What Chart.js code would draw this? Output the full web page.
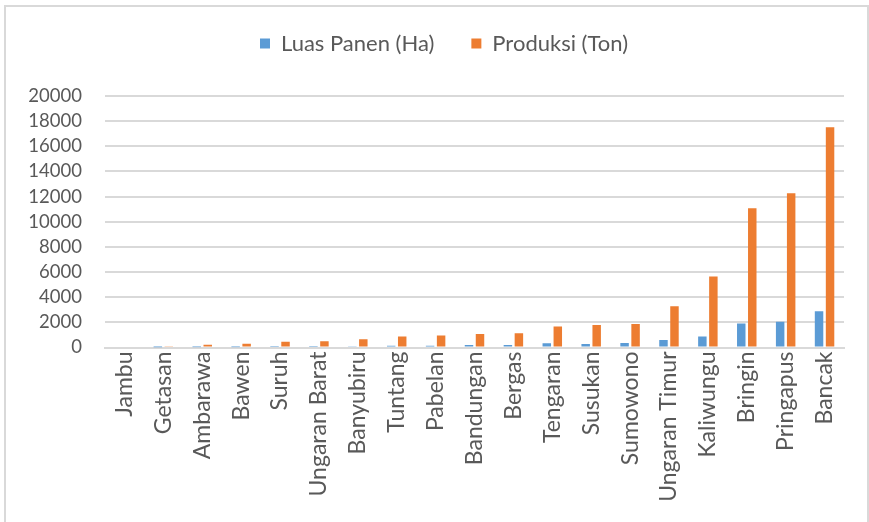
<!DOCTYPE html>
<html>
<head>
<meta charset="utf-8">
<script src="https://cdn.jsdelivr.net/npm/chart.js@4"></script>
<style>
  html, body { margin: 0; padding: 0; background: #fff; overflow: hidden; }
  #wrap { position: relative; width: 869px; height: 522px; }
  #frame { position: absolute; left: 4px; top: 5px; width: 861px; height: 600px; border: 2px solid #d9d9d9; pointer-events: none; }
</style>
</head>
<body>
<div id="wrap">
  <canvas id="chart" width="869" height="522"></canvas>
  <div id="frame"></div>
</div>
<script>
const kecamatan = ["Jambu", "Getasan", "Ambarawa", "Bawen", "Suruh", "Ungaran Barat", "Banyubiru",
    "Tuntang", "Pabelan", "Bandungan", "Bergas", "Tengaran", "Susukan", "Sumowono",
    "Ungaran Timur", "Kaliwungu", "Bringin", "Pringapus", "Bancak"];
const luasPanen = [0, 5, 10, 15, 40, 45, 90, 130, 135, 190, 190, 330, 270, 350, 600, 874, 1907, 2040, 2887];
const produksi = [0, 60, 210, 290, 450, 500, 660, 880, 945, 1080, 1140, 1675, 1790, 1870, 3290, 5640, 11070, 12265, 17510];
const yTicks = { min: 0, max: 20000, step: 2000 };

const textColor = "#595959";
const gridColor = "#d9d9d9";
const fontFamily = "Lato, 'Open Sans', sans-serif";

// Excel leaves a gap under the legend and sits it a bit right of centre
const legendTweak = {
    id: "legendTweak",
    beforeInit(chart) {
        const legend = chart.legend;
        const fit = legend.fit;
        const draw = legend.draw;
        legend.fit = function () {
            fit.call(legend);
            legend.height += 31.5;
        };
        legend.draw = function () {
            legend.ctx.save();
            legend.ctx.translate(22, 0);
            draw.call(legend);
            legend.ctx.restore();
        };
    }
};

const ctx = document.getElementById("chart").getContext("2d");
new Chart(ctx, {
    type: "bar",
    data: {
        labels: kecamatan,
        datasets: [
            { label: "Luas Panen (Ha)", data: luasPanen, backgroundColor: "#5B9BD5" },
            { label: "Produksi (Ton)", data: produksi, backgroundColor: "#ED7D31" }
        ]
    },
    options: {
        responsive: false,
        animation: false,
        categoryPercentage: 0.566,
        barPercentage: 0.77,
        layout: { padding: { left: 0, right: 25, top: -4.5, bottom: 0 } },
        plugins: {
            tooltip: { enabled: false },
            legend: {
                position: "top",
                labels: {
                    color: textColor,
                    font: { family: fontFamily, size: 22 },
                    boxWidth: 10,
                    boxHeight: 10,
                    padding: 37
                }
            }
        },
        scales: {
            x: {
                grid: { display: false, drawTicks: false },
                border: { display: true, color: gridColor, width: 2 },
                ticks: {
                    color: textColor,
                    font: { family: fontFamily, size: 23 },
                    minRotation: 90,
                    maxRotation: 90,
                    autoSkip: false,
                    padding: 4
                },
                afterFit(scale) { scale.height = 174.5; }
            },
            y: {
                min: yTicks.min,
                max: yTicks.max,
                grid: { color: gridColor, lineWidth: 2, drawTicks: false },
                border: { display: false },
                ticks: {
                    stepSize: yTicks.step,
                    autoSkip: false,
                    color: textColor,
                    font: { family: fontFamily, size: 18.5 },
                    padding: 23,
                    callback: v => v
                },
                afterFit(scale) { scale.width = 105; }
            }
        }
    },
    plugins: [legendTweak]
});
</script>
</body>
</html>
